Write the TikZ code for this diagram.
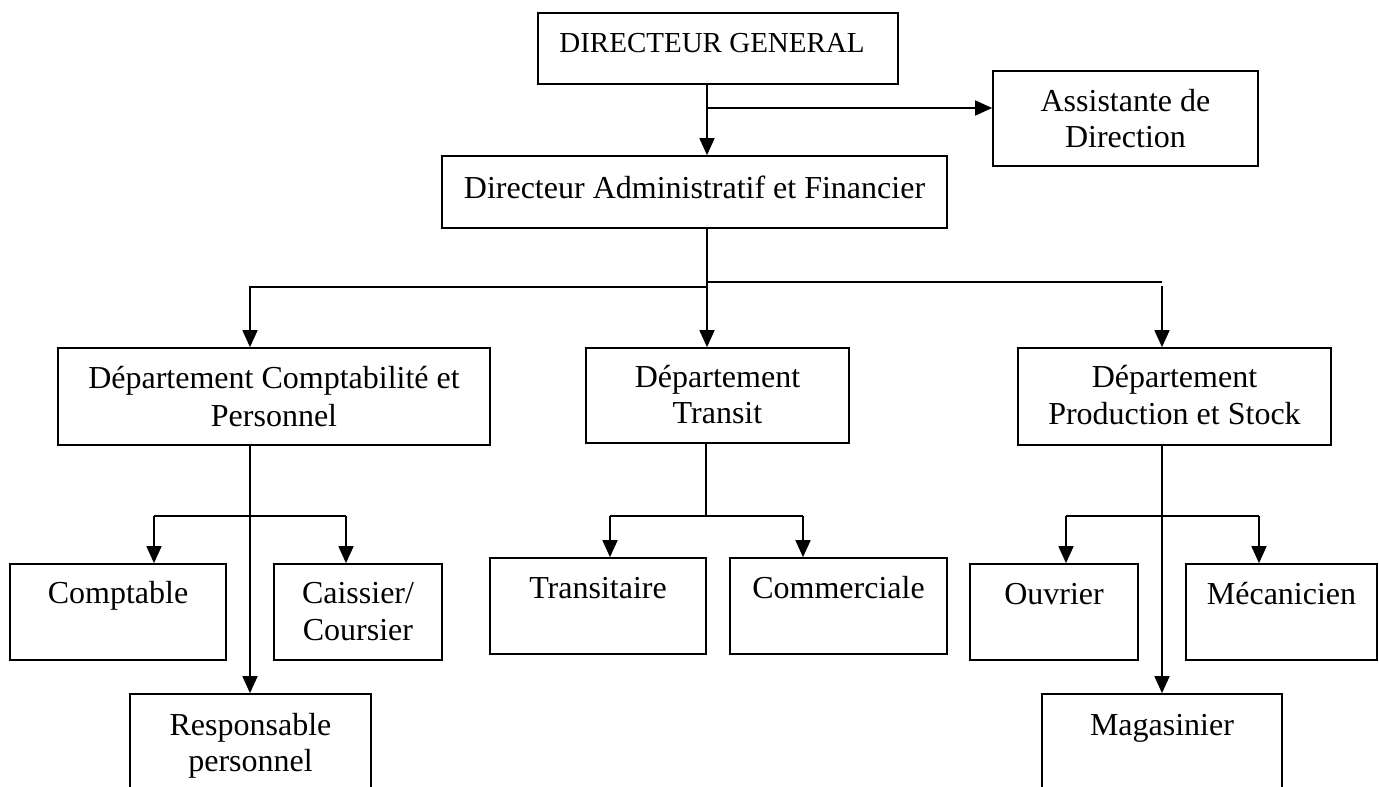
\documentclass[tikz,border=0pt]{standalone}
\usepackage{fontspec}
\setmainfont{Liberation Serif}
\usetikzlibrary{arrows.meta}
\begin{document}
\begin{tikzpicture}[x=1pt,y=-1pt,
  box/.style={draw, line width=1.7pt, rectangle, inner sep=0pt},
  lbl/.style={anchor=base, font=\fontsize{32}{37}\selectfont, inner sep=0pt},
  conn/.style={line width=1.7pt},
  arr/.style={conn, -{Triangle[length=17pt,width=15pt]}}]
\clip (0,0) rectangle (1379,787);
\fill[white] (0,0) rectangle (1379,787);
% boxes
\node[box, minimum width=360pt, minimum height=71pt] (dg)  at (718,48.5) {};
\node[box, minimum width=265pt, minimum height=95pt] (ast) at (1125.5,118.5) {};
\node[box, minimum width=505pt, minimum height=72pt] (daf) at (694.5,192) {};
\node[box, minimum width=432pt, minimum height=97pt] (dc)  at (274,396.5) {};
\node[box, minimum width=263pt, minimum height=95pt] (dt)  at (717.5,395.5) {};
\node[box, minimum width=313pt, minimum height=97pt] (dp)  at (1174.5,396.5) {};
\node[box, minimum width=216pt, minimum height=96pt] (cpt) at (118,612) {};
\node[box, minimum width=168pt, minimum height=96pt] (cai) at (358,612) {};
\node[box, minimum width=241pt, minimum height=126pt] (rsp) at (250.5,757) {};
\node[box, minimum width=216pt, minimum height=96pt] (trn) at (598,606) {};
\node[box, minimum width=217pt, minimum height=96pt] (com) at (838.5,606) {};
\node[box, minimum width=168pt, minimum height=96pt] (ouv) at (1054,612) {};
\node[box, minimum width=191pt, minimum height=96pt] (mec) at (1281.5,612) {};
\node[box, minimum width=240pt, minimum height=126pt] (mag) at (1162,757) {};
% texts
\node[lbl, font=\fontsize{29}{34}\selectfont] (tdg) at (712,52) {DIRECTEUR GENERAL};
\node[lbl] (tast1) at (1125.5,111) {Assistante de};
\node[lbl] (tast2) at (1125.5,147) {Direction};
\node[lbl] (tdaf) at (694.5,198) {Directeur Administratif et Financier};
\node[lbl] (tdc1) at (274,388) {Département Comptabilité et};
\node[lbl] (tdc2) at (274,426) {Personnel};
\node[lbl] (tdt1) at (717.5,387) {Département};
\node[lbl] (tdt2) at (717.5,423) {Transit};
\node[lbl] (tdp1) at (1174.5,387) {Département};
\node[lbl] (tdp2) at (1174.5,424) {Production et Stock};
\node[lbl] (tcpt) at (118,603) {Comptable};
\node[lbl] (tcai1) at (358,603) {Caissier/};
\node[lbl] (tcai2) at (358,640) {Coursier};
\node[lbl] (trsp1) at (250.5,735) {Responsable};
\node[lbl] (trsp2) at (250.5,771) {personnel};
\node[lbl] (ttrn) at (598,598) {Transitaire};
\node[lbl] (tcom) at (838.5,598) {Commerciale};
\node[lbl] (touv) at (1054,604) {Ouvrier};
\node[lbl] (tmec) at (1281.5,604) {Mécanicien};
\node[lbl] (tmag) at (1162,735) {Magasinier};
% junction coordinates
\coordinate (j1) at (707,108);
\coordinate (jL) at (707,287);
\coordinate (jR) at (707,282);
\coordinate (cL) at (250,287);
\coordinate (pR) at (1162,282);
\coordinate (pR2) at (1162,286);
\coordinate (c1) at (250,516);
\coordinate (c2) at (154,516);
\coordinate (c3) at (346,516);
\coordinate (t1) at (706,516);
\coordinate (t2) at (610,516);
\coordinate (t3) at (803,516);
\coordinate (p1) at (1162,516);
\coordinate (p2) at (1066,516);
\coordinate (p3) at (1259,516);
% connectors
\draw[arr] (dg.south -| j1) -- (daf.north -| j1);
\draw[arr] (j1) -- (ast.west |- j1);
\draw[arr] (daf.south -| jL) -- (dt.north -| jL);
\draw[arr] (jL) -- (cL) -- (dc.north -| cL);
\draw[conn] (jR) -- (pR);
\draw[arr] (pR2) -- (dp.north -| pR2);
\draw[arr] (dc.south -| c1) -- (rsp.north -| c1);
\draw[conn] (c2) -- (c3);
\draw[arr] (c2) -- (cpt.north -| c2);
\draw[arr] (c3) -- (cai.north -| c3);
\draw[conn] (dt.south -| t1) -- (t1);
\draw[conn] (t2) -- (t3);
\draw[arr] (t2) -- (trn.north -| t2);
\draw[arr] (t3) -- (com.north -| t3);
\draw[arr] (dp.south -| p1) -- (mag.north -| p1);
\draw[conn] (p2) -- (p3);
\draw[arr] (p2) -- (ouv.north -| p2);
\draw[arr] (p3) -- (mec.north -| p3);
\end{tikzpicture}
\end{document}
